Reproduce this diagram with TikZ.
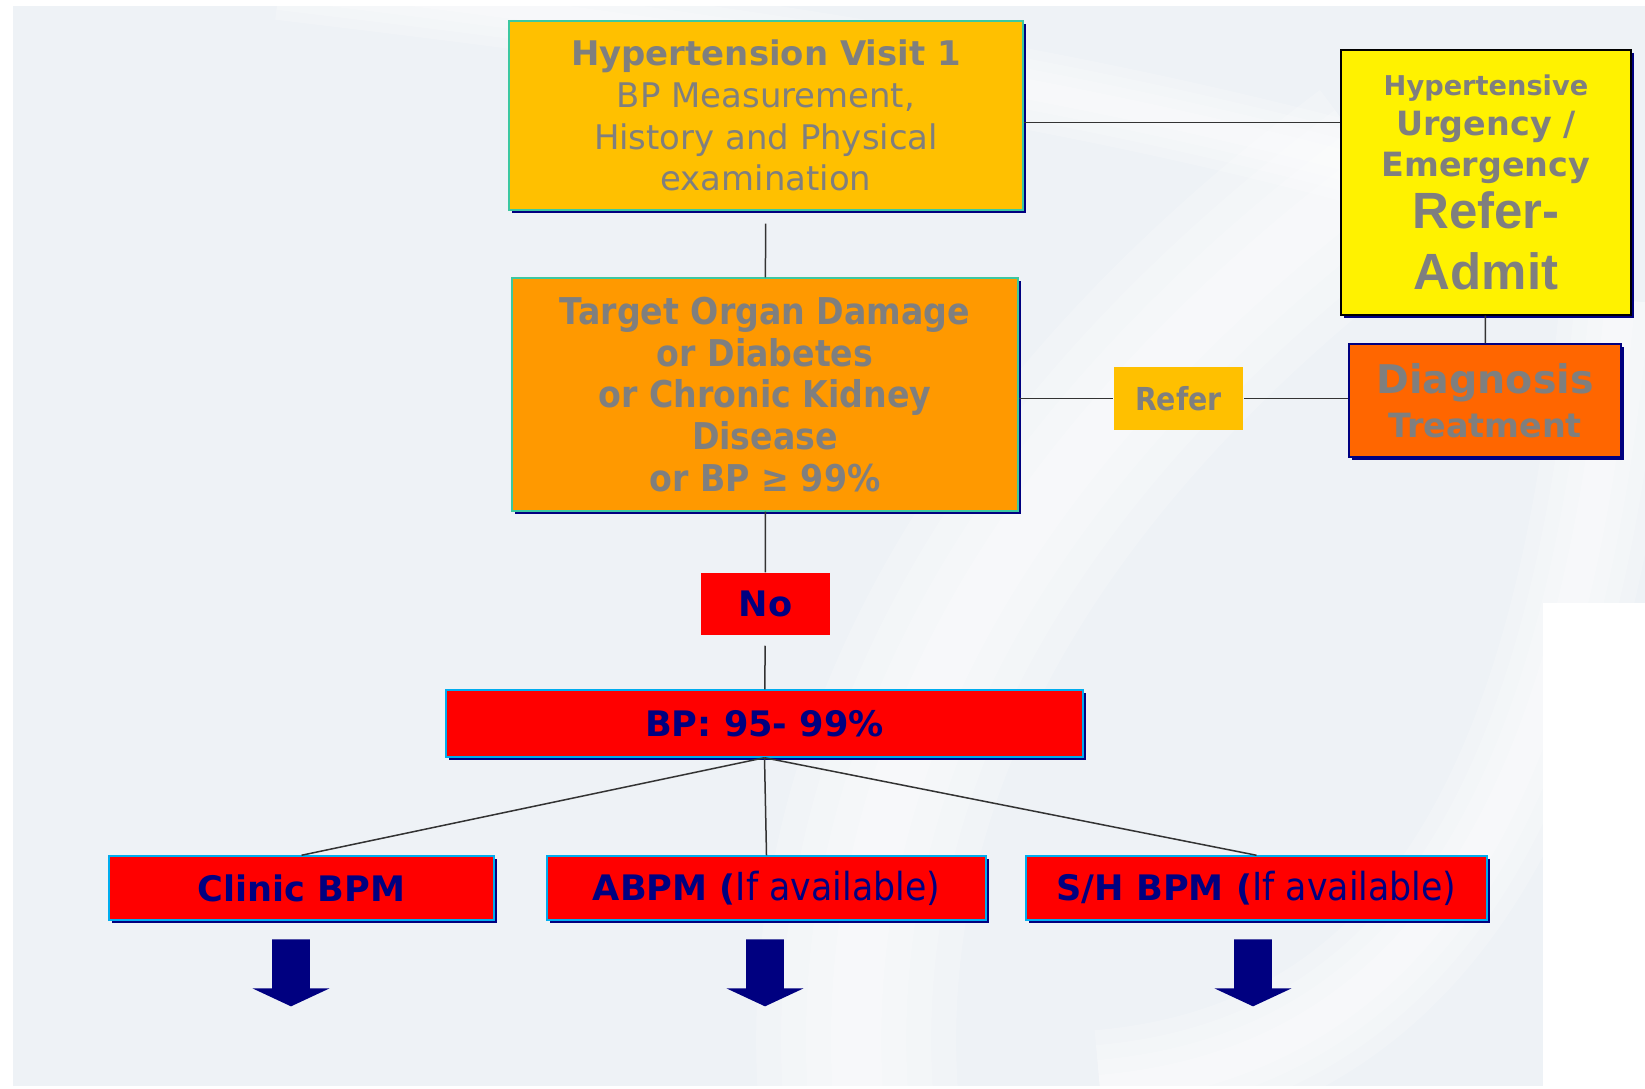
\documentclass[tikz,border=0pt]{standalone}
\usepackage{fontspec}
\setmainfont{DejaVu Sans}
\newfontfamily\narrowfont[FakeStretch=0.9]{DejaVu Sans}
\newfontfamily\arialfont{Liberation Sans}
\usetikzlibrary{shapes.arrows,shadows}
\definecolor{bggray}{HTML}{EEF2F6}
\definecolor{amber}{HTML}{FFC000}
\definecolor{tangerine}{HTML}{FF9900}
\definecolor{rust}{HTML}{FF6600}
\definecolor{deepnavy}{HTML}{000080}
\definecolor{txtgray}{HTML}{7F7F7F}
\definecolor{tealedge}{HTML}{3CC8A0}
\lineskiplimit=-20pt
\begin{document}
\begin{tikzpicture}[x=0.02cm,y=-0.02cm,
 box/.style={rectangle,inner sep=0,align=center,text=txtgray,line width=0.3mm},
 navyshadow/.style={drop shadow={shadow xshift=0.6mm,shadow yshift=-0.6mm,opacity=1,fill=deepnavy}},
 redbox/.style={box,fill=red,draw=cyan,navyshadow,text=deepnavy,minimum height=12.8mm,font=\fontsize{20}{24}\selectfont\bfseries},
 link/.style={draw=black!80,line width=0.3mm},
 bigarrow/.style={single arrow,rotate=-90,anchor=tail,fill=deepnavy,inner xsep=0,inner ysep=3.7mm,minimum height=13.4mm,single arrow head extend=3.9mm,single arrow tip angle=130}]
\useasboundingbox(0,0)rectangle(1645,1088);
\fill[bggray](13,6)rectangle(1645,1086);
\begin{scope}
\clip(13,6)rectangle(1645,1086);
\foreach \w in {4,8,12,16}\draw[white,opacity=0.2,line width=\w mm](280,-20)..controls(700,30)and(1050,80)..(1380,170);
\foreach \w in {10,20,30,40}\draw[white,opacity=0.2,line width=\w mm](1380,170)..controls(1100,380)and(820,700)..(860,1120);
\foreach \w in {6,12,18,24}\draw[white,opacity=0.2,line width=\w mm](1620,300)..controls(1580,750)and(1450,1060)..(1100,1090);
\end{scope}
\fill[white](1543,603)rectangle(1645,1088);
\node[box,fill=amber,draw=tealedge,navyshadow,minimum width=102.8mm,minimum height=37.8mm,font=\fontsize{19.3}{23.8}\selectfont](visit)at(766,115.5){\textbf{Hypertension Visit 1}\\BP Measurement,\\History and Physical\\examination};
\node[box,fill=yellow,draw=black,navyshadow,minimum width=58mm,minimum height=53mm,font=\fontsize{19}{23}\selectfont\bfseries](urgent)at(1486,182.5){{\fontsize{15.5}{23}\selectfont Hypertensive}\\Urgency /\\Emergency\\[7pt]{\arialfont\fontsize{29}{23}\selectfont Refer-}\\[11.6pt]{\arialfont\fontsize{29}{23}\selectfont Admit}};
\node[box,fill=tangerine,draw=tealedge,navyshadow,minimum width=101.2mm,minimum height=46.6mm,font=\narrowfont\fontsize{21}{23.8}\selectfont\bfseries](organ)at(765,394.5){Target Organ Damage\\or Diabetes\\or Chronic Kidney\\Disease\\or BP ≥ 99\%};
\node[box,fill=amber,minimum width=25.8mm,minimum height=12.6mm,font=\narrowfont\fontsize{18}{20}\selectfont\bfseries](refer)at(1178.5,398.5){Refer};
\node[box,fill=rust,draw=deepnavy,navyshadow,minimum width=54.4mm,minimum height=22.6mm,font=\fontsize{19}{25}\selectfont\bfseries](diag)at(1485,400.5){{\fontsize{22.5}{25}\selectfont Diagnosis}\\Treatment};
\node[box,fill=red,text=deepnavy,minimum width=25.8mm,minimum height=12.4mm,font=\fontsize{20}{24}\selectfont\bfseries](no)at(765.5,604){No};
\node[redbox,minimum width=127.4mm,minimum height=13.4mm](range)at(764.5,723.5){BP: 95- 99\%};
\node[redbox,minimum width=77mm](clinic)at(301.5,888){Clinic BPM};
\node[redbox,minimum width=87.8mm](abpm)at(766.5,888){ABPM ({\narrowfont\fontsize{22}{24}\selectfont\mdseries If available)}};
\node[redbox,minimum width=92.2mm](shbpm)at(1256.5,888){S/H BPM ({\narrowfont\fontsize{22}{24}\selectfont\mdseries If available)}};
\draw[link]([yshift=-4pt]visit.east)--([yshift=-4pt]visit.east-|urgent.west);
\draw[link,shorten <=2.6mm](visit)--(organ);
\draw[link](refer.west-|organ.east)--(refer.west) (refer.east)--(refer.east-|diag.west);
\draw[link](urgent)--(diag);
\draw[link,shorten <=2mm](organ)--(no)--(range);
\foreach \b in {clinic,abpm,shbpm}\draw[link](range.south)--(\b.north);
\foreach \x/\n in {291/1,765/2,1253/3}\node[bigarrow](down\n)at(\x,939){};
\end{tikzpicture}
\end{document}
